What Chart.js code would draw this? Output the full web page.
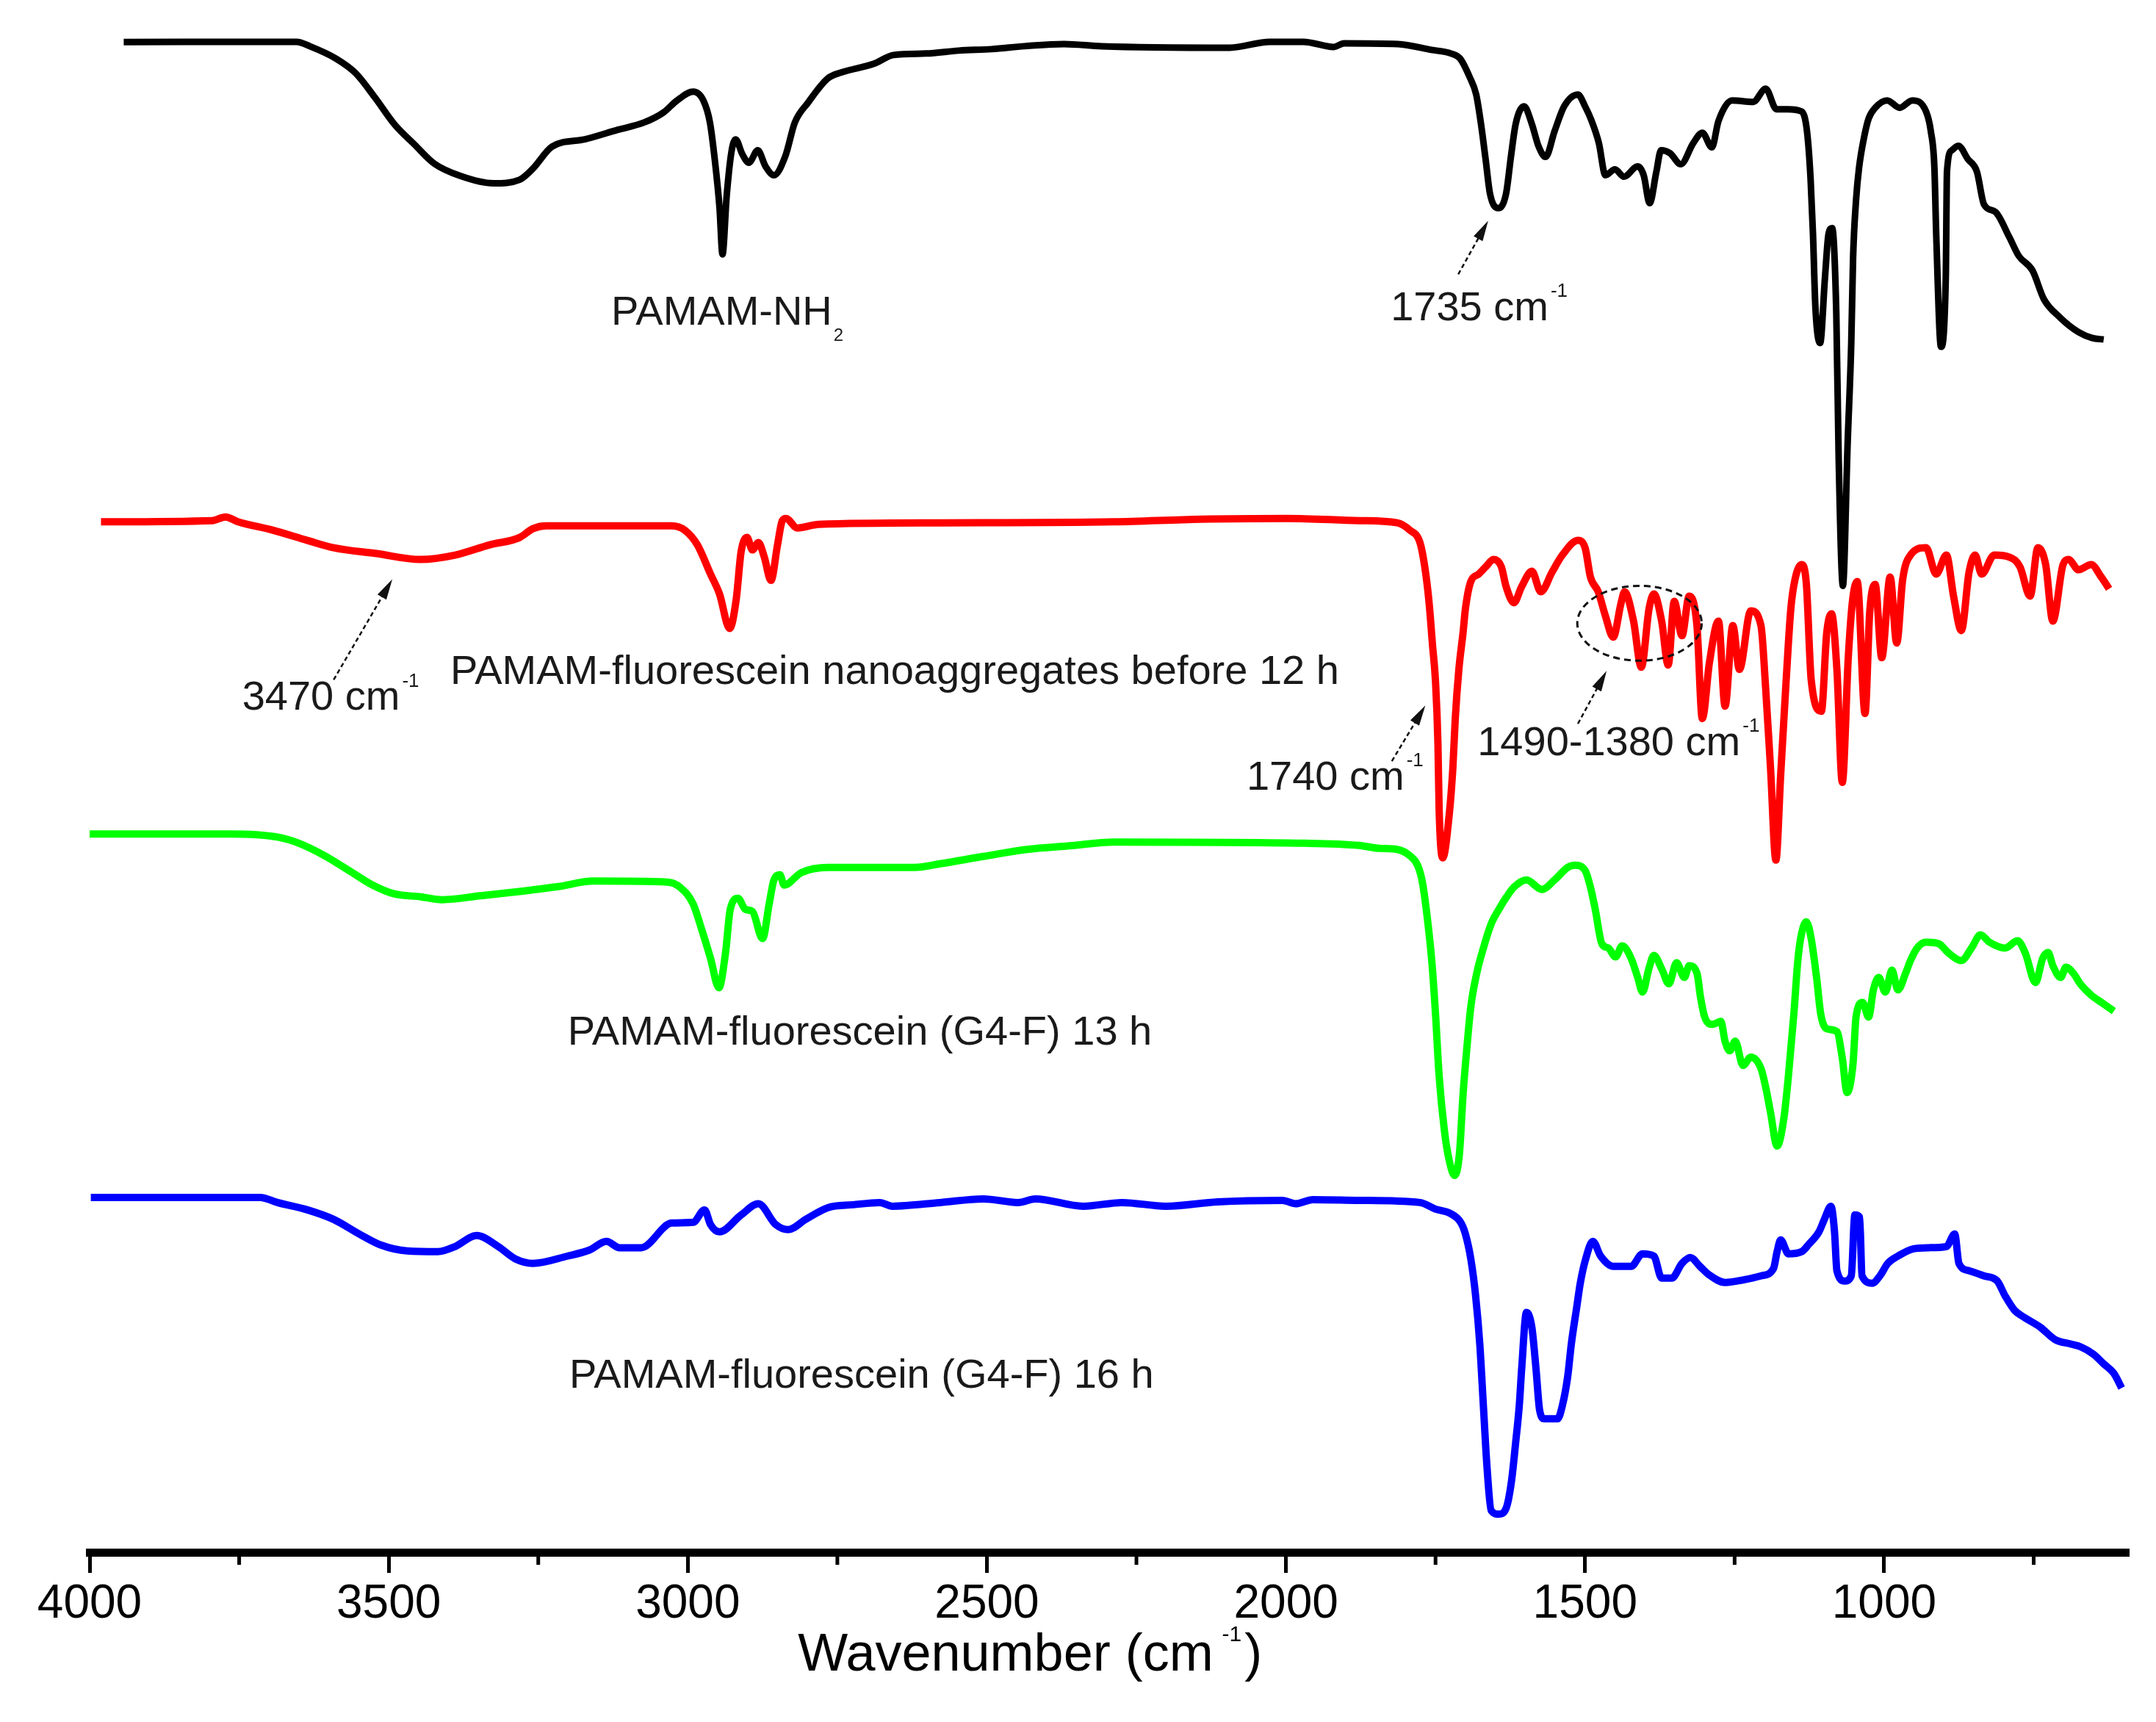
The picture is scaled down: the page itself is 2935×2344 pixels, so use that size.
<!DOCTYPE html>
<html>
<head>
<meta charset="utf-8">
<title>FTIR spectra of PAMAM-fluorescein</title>
<script src="https://cdn.jsdelivr.net/npm/chart.js@4.4.1/dist/chart.umd.min.js"></script>
<style>
  html, body { margin: 0; padding: 0; background: #fff; }
  #wrap { width: 2935px; height: 2344px; }
</style>
</head>
<body>
<div id="wrap"><canvas id="ftirChart" width="2935" height="2344"></canvas></div>
<script>
// x axis (wavenumber, cm-1)
const majorTicks = [4000, 3500, 3000, 2500, 2000, 1500, 1000];
const minorTicks = [3750, 3250, 2750, 2250, 1750, 1250, 750];

// PAMAM-NH2 (black)
const nh2Wn = [3943, 3654, 3632, 3588, 3555, 3523, 3490, 3457, 3424, 3380, 3325, 3281, 3259, 3227, 3172, 3117, 3073, 3040, 3018, 2991,
  2974, 2963, 2955, 2947, 2942, 2935, 2927, 2920, 2909, 2898, 2883, 2870, 2856, 2837, 2821, 2799, 2766, 2744, 2689, 2656,
  2602, 2547, 2492, 2437, 2371, 2308, 2094, 2027, 1971, 1920, 1903, 1813, 1757, 1724, 1709, 1693, 1682, 1674, 1666, 1659,
  1645, 1632, 1624, 1616, 1602, 1589, 1578, 1566, 1551, 1535, 1512, 1500, 1489, 1477, 1466, 1450, 1435, 1412, 1402, 1392,
  1381, 1373, 1358, 1340, 1319, 1304, 1288, 1277, 1254, 1219, 1198, 1180, 1161, 1138, 1129, 1123, 1119, 1115, 1107, 1099,
  1093, 1087, 1080, 1076, 1069, 1061, 1055, 1052, 1047, 1042, 1034, 1026, 1015, 995, 974, 953, 930, 922, 916, 913,
  905, 897, 895, 887, 876, 860, 845, 833, 814, 791, 775, 752, 733, 706, 675, 652, 633];
const nh2T = [102.98, 103.0, 102.7, 101.85, 100.85, 99.2, 97.35, 96.0, 94.7, 93.85, 93.35, 93.6, 94.35, 95.85, 96.35, 97.0, 97.5, 98.2, 99.0, 99.6,
  99.0, 97.5, 95.0, 91.7, 88.5, 92.5, 95.5, 96.35, 95.35, 94.75, 95.6, 94.5, 93.9, 95.2, 97.5, 98.85, 100.5, 100.9, 101.5, 102.1,
  102.2, 102.4, 102.5, 102.7, 102.85, 102.7, 102.6, 103.0, 103.0, 102.65, 102.9, 102.85, 102.45, 102.2, 101.86, 100.6, 99.4, 97.4, 94.9, 92.66,
  91.66, 92.66, 95.15, 97.4, 98.6, 97.4, 95.9, 95.15, 96.9, 98.6, 99.4, 98.6, 97.6, 96.1, 93.9, 94.3, 93.8, 94.5, 93.9, 92.0,
  94.1, 95.6, 95.4, 94.65, 96.1, 96.8, 95.8, 97.6, 99.0, 98.9, 99.8, 98.4, 98.4, 98.25, 96.9, 93.65, 89.9, 84.95, 82.46, 86.9,
  89.9, 90.3, 84.45, 74.5, 65.9, 75.7, 82.46, 88.2, 92.2, 94.4, 96.4, 97.76, 98.5, 99.0, 98.5, 99.0, 98.25, 96.9, 94.4, 89.9,
  82.2, 86.9, 94.15, 95.6, 95.9, 95.0, 94.15, 91.9, 91.4, 89.7, 88.4, 87.4, 85.45, 84.2, 83.2, 82.8, 82.7];

// PAMAM-fluorescein nanoaggregates before 12 h (red)
const nanoWn = [3981, 3795, 3773, 3752, 3694, 3636, 3592, 3520, 3447, 3389, 3331, 3281, 3259, 3237, 3027, 3005, 2984, 2962, 2947, 2930,
  2919, 2911, 2901, 2892, 2882, 2872, 2861, 2850, 2842, 2836, 2817, 2781, 2578, 2288, 2143, 1998, 1878, 1814, 1793, 1776,
  1768, 1761, 1755, 1750, 1746, 1744, 1738, 1727, 1721, 1717, 1711, 1704, 1700, 1691, 1678, 1666, 1653, 1640, 1632, 1619,
  1606, 1589, 1574, 1555, 1538, 1512, 1500, 1491, 1478, 1466, 1453, 1440, 1434, 1419, 1406, 1393, 1385, 1372, 1361, 1351,
  1338, 1326, 1313, 1304, 1292, 1277, 1266, 1253, 1242, 1223, 1206, 1198, 1190, 1181, 1173, 1164, 1156, 1149, 1138, 1130,
  1122, 1105, 1096, 1088, 1079, 1070, 1060, 1053, 1045, 1032, 1024, 1015, 1004, 990, 979, 969, 956, 930, 913, 896,
  884, 871, 858, 848, 837, 816, 790, 773, 756, 743, 730, 718, 701, 692, 675, 654, 637, 624];
const nanoT = [70.27, 70.35, 70.6, 70.27, 69.7, 69.0, 68.5, 68.1, 67.7, 68.0, 68.7, 69.2, 69.8, 70.0, 70.0, 69.7, 68.7, 66.7, 65.35, 63.0,
  65.0, 68.2, 69.2, 68.35, 68.85, 67.85, 66.27, 68.7, 70.35, 70.5, 69.85, 70.1, 70.2, 70.27, 70.45, 70.5, 70.35, 70.2, 69.7, 68.85,
  67.2, 64.85, 61.85, 59.35, 55.2, 50.7, 47.35, 50.35, 53.5, 56.85, 60.2, 62.7, 64.35, 66.2, 66.7, 67.2, 67.7, 67.2, 65.85, 64.75,
  65.85, 66.9, 65.5, 66.85, 68.0, 69.0, 68.5, 66.5, 65.5, 63.85, 62.4, 64.7, 65.5, 63.5, 60.35, 64.35, 65.35, 63.5, 60.5, 64.85,
  62.5, 65.2, 63.2, 56.85, 60.7, 63.5, 57.7, 63.2, 60.2, 64.2, 63.2, 58.85, 53.5, 47.2, 53.0, 59.35, 64.35, 66.35, 67.35, 66.0,
  59.5, 57.35, 62.7, 64.0, 60.2, 52.5, 61.0, 64.85, 66.2, 57.2, 64.2, 66.0, 61.0, 66.5, 62.0, 66.35, 68.0, 68.5, 66.7, 68.0,
  65.2, 62.85, 66.85, 68.0, 66.7, 68.0, 67.85, 67.2, 65.2, 68.5, 67.35, 63.5, 67.35, 67.7, 67.0, 67.35, 66.5, 65.7];

// PAMAM-fluorescein (G4-F) 13 h (green)
const g4f13Wn = [4000, 3766, 3686, 3650, 3607, 3563, 3527, 3491, 3447, 3411, 3346, 3273, 3216, 3158, 3034, 3013, 2991, 2977, 2962, 2948,
  2937, 2929, 2916, 2904, 2892, 2875, 2864, 2856, 2846, 2839, 2810, 2766, 2621, 2578, 2506, 2433, 2361, 2288, 1969, 1878,
  1844, 1814, 1793, 1780, 1772, 1763, 1756, 1750, 1744, 1735, 1727, 1718, 1710, 1704, 1698, 1691, 1681, 1670, 1657, 1644,
  1631, 1619, 1598, 1572, 1551, 1529, 1517, 1500, 1491, 1483, 1472, 1461, 1449, 1438, 1423, 1412, 1404, 1393, 1385, 1371,
  1360, 1347, 1334, 1326, 1313, 1307, 1300, 1287, 1273, 1266, 1258, 1249, 1236, 1223, 1206, 1198, 1190, 1179, 1168, 1160,
  1151, 1144, 1138, 1130, 1122, 1113, 1106, 1096, 1079, 1070, 1062, 1052, 1047, 1036, 1026, 1018, 1009, 998, 987, 977,
  964, 956, 945, 930, 909, 892, 871, 854, 839, 824, 798, 777, 764, 747, 735, 726, 718, 705, 696, 684,
  671, 654, 637, 616];
const g4f13T = [48.98, 48.98, 48.77, 48.35, 47.5, 46.4, 45.5, 44.9, 44.7, 44.5, 44.77, 45.1, 45.4, 45.77, 45.7, 45.35, 44.2, 42.5, 40.5, 38.5,
  40.85, 43.85, 44.6, 43.85, 43.7, 41.85, 44.2, 45.85, 46.2, 45.5, 46.35, 46.7, 46.7, 46.95, 47.45, 47.93, 48.18, 48.43, 48.35, 48.2,
  48.0, 47.93, 47.5, 46.85, 45.7, 43.0, 40.2, 36.7, 32.5, 28.7, 26.7, 25.7, 27.2, 31.2, 34.2, 37.2, 39.5, 41.2, 42.85, 43.85,
  44.7, 45.35, 45.85, 45.2, 45.85, 46.7, 46.85, 46.5, 45.35, 43.85, 41.5, 41.2, 40.6, 41.35, 40.5, 39.2, 38.2, 39.85, 40.7, 39.7,
  38.77, 40.2, 39.2, 40.0, 39.5, 37.85, 36.5, 36.0, 36.2, 34.85, 34.2, 34.85, 33.2, 33.77, 33.0, 31.7, 30.0, 27.7, 29.5, 32.5,
  36.7, 40.5, 42.2, 43.0, 41.85, 39.2, 36.7, 35.7, 35.5, 33.7, 31.35, 33.35, 36.5, 37.5, 36.5, 38.35, 39.2, 38.2, 39.7, 38.35,
  39.5, 40.35, 41.2, 41.6, 41.5, 40.85, 40.35, 41.2, 42.1, 41.6, 41.2, 41.7, 40.85, 38.85, 40.5, 40.9, 40.0, 39.2, 39.9, 39.5,
  38.7, 38.0, 37.5, 36.9];

// PAMAM-fluorescein (G4-F) 16 h (blue)
const g4f16Wn = [3998, 3715, 3686, 3636, 3592, 3549, 3513, 3469, 3418, 3389, 3353, 3317, 3288, 3259, 3201, 3165, 3136, 3114, 3078, 3027,
  2991, 2972, 2962, 2947, 2911, 2882, 2853, 2832, 2803, 2766, 2723, 2679, 2658, 2578, 2506, 2448, 2419, 2339, 2274, 2201,
  2114, 2006, 1984, 1955, 1878, 1776, 1750, 1725, 1708, 1700, 1691, 1683, 1676, 1670, 1664, 1657, 1644, 1632, 1623, 1616,
  1610, 1606, 1598, 1589, 1582, 1576, 1568, 1546, 1538, 1529, 1523, 1514, 1508, 1500, 1487, 1474, 1453, 1423, 1404, 1385,
  1372, 1355, 1338, 1324, 1308, 1292, 1266, 1232, 1206, 1185, 1179, 1173, 1160, 1138, 1126, 1109, 1100, 1089, 1083, 1079,
  1066, 1055, 1049, 1041, 1037, 1020, 1007, 994, 977, 951, 926, 896, 882, 875, 858, 833, 811, 798, 782, 765,
  739, 714, 688, 671, 650, 633, 616, 603];
const g4f16T = [24.2, 24.2, 23.85, 23.35, 22.7, 21.7, 20.95, 20.55, 20.5, 20.85, 21.6, 20.85, 20.0, 19.7, 20.2, 20.6, 21.2, 20.77, 20.77, 22.45,
  22.5, 23.35, 22.35, 21.85, 23.0, 23.77, 22.35, 22.0, 22.7, 23.5, 23.7, 23.85, 23.6, 23.85, 24.1, 23.85, 24.1, 23.6, 23.85, 23.6,
  23.9, 24.0, 23.77, 24.05, 24.0, 23.85, 23.4, 23.1, 22.5, 21.7, 20.0, 17.5, 14.2, 10.0, 5.85, 2.85, 2.6, 3.0, 4.85, 7.5,
  10.0, 12.5, 16.35, 15.35, 12.5, 9.7, 9.1, 9.1, 10.0, 12.0, 14.2, 16.7, 18.35, 19.85, 21.2, 20.2, 19.5, 19.5, 20.35, 20.2,
  18.7, 18.7, 19.7, 20.1, 19.5, 18.9, 18.4, 18.6, 18.85, 19.35, 20.5, 21.3, 20.35, 20.5, 21.0, 21.85, 22.7, 23.6, 21.85, 19.2,
  18.5, 18.85, 23.0, 22.85, 18.85, 18.35, 18.85, 19.7, 20.2, 20.7, 20.77, 20.85, 21.7, 19.7, 19.2, 18.85, 18.5, 17.5, 16.5, 16.0,
  15.35, 14.5, 14.2, 14.0, 13.5, 12.85, 12.2, 11.2];

const FONT = '"Liberation Sans", Arial, sans-serif';

// text labels, anchored in data coordinates (left end, baseline)
const labels = [
  { wn: 3128, t: 83.7, parts: [{ text: "PAMAM-NH", size: 56 }, { text: "2", size: 24, dy: 22, dx: 2 }] },
  { wn: 1825, t: 84.0, parts: [{ text: "1735 cm", size: 56 }, { text: "-1", size: 26, dy: -32, dx: 3 }] },
  { wn: 3745, t: 57.45, parts: [{ text: "3470 cm", size: 56 }, { text: "-1", size: 26, dy: -31, dx: 3 }] },
  { wn: 3397, t: 59.2, parts: [{ text: "PAMAM-fluorescein nanoaggregates before 12 h", size: 56 }] },
  { wn: 2066, t: 52.0, parts: [{ text: "1740 cm", size: 56 }, { text: "-1", size: 26, dy: -32, dx: 3 }] },
  { wn: 1680, t: 54.35, parts: [{ text: "1490-1380 cm", size: 56 }, { text: "-1", size: 26, dy: -32, dx: 3 }] },
  { wn: 3201, t: 34.6, parts: [{ text: "PAMAM-fluorescein (G4-F) 13 h", size: 56 }] },
  { wn: 3198, t: 11.2, parts: [{ text: "PAMAM-fluorescein (G4-F) 16 h", size: 56 }] }
];

// dashed arrows: [wn, t] of tail and head
const arrows = [
  { from: [1712, 87.15], to: [1662, 90.8] },
  { from: [3592, 59.5], to: [3494, 66.35] },
  { from: [1823, 53.95], to: [1767, 57.75] },
  { from: [1512, 56.5], to: [1464, 60.1] }
];

// dashed ellipse round the 1490-1380 band
const ellipses = [{ wn1: 1513, wn2: 1305, t1: 60.8, t2: 65.9 }];

function drawRich(ctx, x, y, parts) {
  let cx = x;
  parts.forEach(p => {
    ctx.font = p.size + "px " + FONT;
    cx += (p.dx || 0);
    ctx.fillText(p.text, cx, y + (p.dy || 0));
    cx += ctx.measureText(p.text).width;
  });
}

const annotationPlugin = {
  id: "annotations",
  afterDraw(chart) {
    const { ctx, chartArea } = chart;
    const xs = chart.scales.x, ys = chart.scales.y;
    ctx.save();

    // minor ticks
    ctx.strokeStyle = "#000";
    ctx.lineWidth = 5;
    minorTicks.forEach(v => {
      const px = xs.getPixelForValue(v);
      ctx.beginPath();
      ctx.moveTo(px, chartArea.bottom + 5);
      ctx.lineTo(px, chartArea.bottom + 17);
      ctx.stroke();
    });

    // labels
    ctx.fillStyle = "#1a1a1a";
    ctx.textAlign = "left";
    ctx.textBaseline = "alphabetic";
    labels.forEach(l => drawRich(ctx, xs.getPixelForValue(l.wn), ys.getPixelForValue(l.t), l.parts));

    // axis title
    ctx.fillStyle = "#000";
    drawRich(ctx, xs.getPixelForValue(2816), chartArea.bottom + 161, [
      { text: "Wavenumber (cm", size: 72 },
      { text: "-1", size: 30, dy: -40, dx: 12 },
      { text: ")", size: 72, dx: 4 }
    ]);

    // arrows
    ctx.strokeStyle = "#111";
    ctx.fillStyle = "#111";
    arrows.forEach(a => {
      const x1 = xs.getPixelForValue(a.from[0]), y1 = ys.getPixelForValue(a.from[1]);
      const x2 = xs.getPixelForValue(a.to[0]), y2 = ys.getPixelForValue(a.to[1]);
      const ang = Math.atan2(y2 - y1, x2 - x1);
      const headLen = 28, headW = 7;
      ctx.lineWidth = 2.5;
      ctx.setLineDash([6, 4]);
      ctx.beginPath();
      ctx.moveTo(x1, y1);
      ctx.lineTo(x2 - Math.cos(ang) * headLen * 0.8, y2 - Math.sin(ang) * headLen * 0.8);
      ctx.stroke();
      ctx.setLineDash([]);
      ctx.beginPath();
      ctx.moveTo(x2, y2);
      ctx.lineTo(x2 - Math.cos(ang) * headLen + Math.sin(ang) * headW, y2 - Math.sin(ang) * headLen - Math.cos(ang) * headW);
      ctx.lineTo(x2 - Math.cos(ang) * headLen - Math.sin(ang) * headW, y2 - Math.sin(ang) * headLen + Math.cos(ang) * headW);
      ctx.closePath();
      ctx.fill();
    });

    // ellipse
    ctx.lineWidth = 3;
    ctx.setLineDash([9, 6]);
    ellipses.forEach(e => {
      const xa = xs.getPixelForValue(e.wn1), xb = xs.getPixelForValue(e.wn2);
      const ya = ys.getPixelForValue(e.t1), yb = ys.getPixelForValue(e.t2);
      ctx.beginPath();
      ctx.ellipse((xa + xb) / 2, (ya + yb) / 2, Math.abs(xb - xa) / 2, Math.abs(yb - ya) / 2, 0, 0, Math.PI * 2);
      ctx.stroke();
    });
    ctx.restore();
  }
};

function pairs(wn, t) {
  return wn.map((w, i) => ({ x: w, y: t[i] }));
}

const ctx = document.getElementById("ftirChart").getContext("2d");
new Chart(ctx, {
  type: "line",
  data: {
    datasets: [
      { label: "PAMAM-NH2", data: pairs(nh2Wn, nh2T), borderColor: "#000000", borderWidth: 9 },
      { label: "PAMAM-fluorescein nanoaggregates before 12 h", data: pairs(nanoWn, nanoT), borderColor: "#ff0000", borderWidth: 10 },
      { label: "PAMAM-fluorescein (G4-F) 13 h", data: pairs(g4f13Wn, g4f13T), borderColor: "#00ff00", borderWidth: 10 },
      { label: "PAMAM-fluorescein (G4-F) 16 h", data: pairs(g4f16Wn, g4f16T), borderColor: "#0000ff", borderWidth: 10 }
    ]
  },
  options: {
    responsive: false,
    animation: false,
    devicePixelRatio: 1,
    layout: { padding: { left: 122, right: 37, top: 0, bottom: 117 } },
    elements: {
      point: { radius: 0 },
      line: { cubicInterpolationMode: "monotone", borderJoinStyle: "round", fill: false }
    },
    plugins: { legend: { display: false }, tooltip: { enabled: false } },
    scales: {
      x: {
        type: "linear",
        reverse: true,
        min: 591,
        max: 4000,
        afterBuildTicks: axis => { axis.ticks = majorTicks.map(v => ({ value: v })); },
        ticks: {
          autoSkip: false,
          maxRotation: 0,
          padding: 11,
          color: "#000",
          font: { family: FONT, size: 64, lineHeight: 1 },
          callback: v => String(v)
        },
        grid: { drawOnChartArea: false, drawTicks: true, tickLength: 28, tickWidth: 5, tickColor: "#000" },
        border: { display: true, width: 11, color: "#000" }
      },
      y: { display: false, min: 0, max: 105.85 }
    }
  },
  plugins: [annotationPlugin]
});
</script>
</body>
</html>
